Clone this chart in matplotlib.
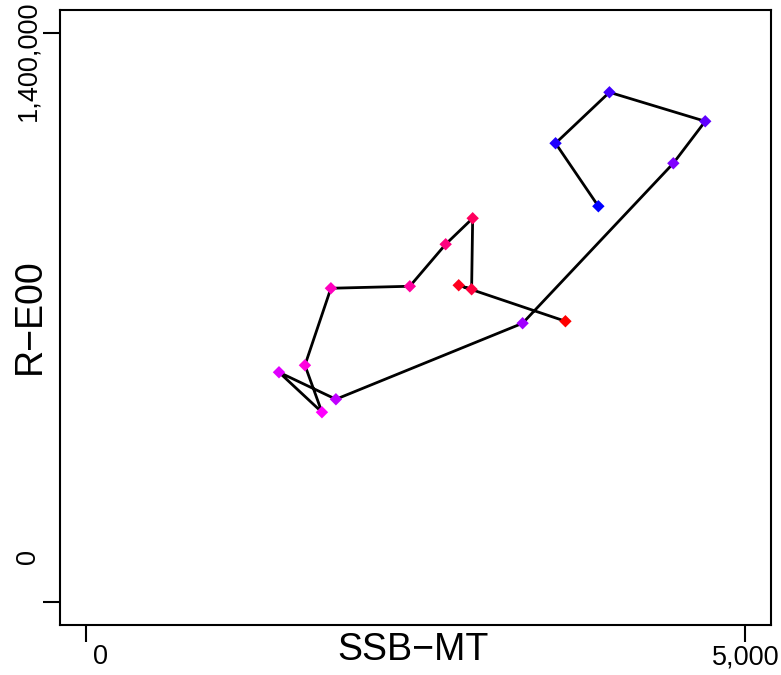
import matplotlib
matplotlib.use("Agg")
import matplotlib.pyplot as plt
import numpy as np
from matplotlib.colors import LinearSegmentedColormap

plt.rcParams['font.family'] = ['Liberation Sans', 'DejaVu Sans']

# Data (chronological order: blue -> red)
ssb = [3886, 3561, 3970, 4697, 4455, 3311, 1894, 1462, 1788, 1659,
       1856, 2455, 2727, 2932, 2924, 2826, 3636]
rec = [973500, 1128400, 1253700, 1182400, 1079200, 685900, 499000, 565400,
       467100, 582600, 771900, 776800, 880100, 944000, 769400, 779300, 690800]

x_ticks = [0, 5000]
x_tick_labels = ["0", "5,000"]
y_ticks = [0, 1400000]
y_tick_labels = ["0", "1,400,000"]
x_label = "SSB\u2212MT"
y_label = "R\u2212E00"

W, H = 781, 675
fig = plt.figure(figsize=(W / 100, H / 100), dpi=100)
ax = fig.add_axes([60 / W, (H - 625) / H, 711.5 / W, 615 / H])

cmap = LinearSegmentedColormap.from_list("bmr", ["#0000ff", "#ff00ff", "#ff0000"])
n = len(ssb)
cols = [cmap(i / (n - 1)) for i in range(n)]

ax.plot(ssb, rec, color="black", lw=2.0, zorder=2, solid_joinstyle="round")
ax.scatter(ssb, rec, c=cols, marker="D", s=40, linewidths=0, zorder=3)

ax.set_xlim(-200, 5200)
ax.set_ylim(-56000, 1456000)

ax.set_xticks(x_ticks)
ax.set_xticklabels([])
ax.set_yticks(y_ticks)
ax.set_yticklabels([])
ax.tick_params(direction="out", length=12, width=1.5, color="black")
for s in ax.spines.values():
    s.set_linewidth(1.5)

fs_tick = 19.5
# x tick labels
x_label_px = [100, 746]
for lab, px in zip(x_tick_labels, x_label_px):
    fig.text(px / W, 1 - 657 / H, lab, ha="center", va="center", fontsize=fs_tick)
# y tick labels
y_label_py = [557, 61]
for lab, py in zip(y_tick_labels, y_label_py):
    fig.text(28.5 / W, 1 - py / H, lab, ha="center", va="center",
             rotation=90, fontsize=fs_tick)

fig.text(413 / W, 1 - 650 / H, x_label, ha="center", va="center", fontsize=27)
fig.text(30 / W, 1 - 316 / H, y_label, ha="center", va="center", rotation=90, fontsize=27)

fig.savefig("out.png", dpi=100)
